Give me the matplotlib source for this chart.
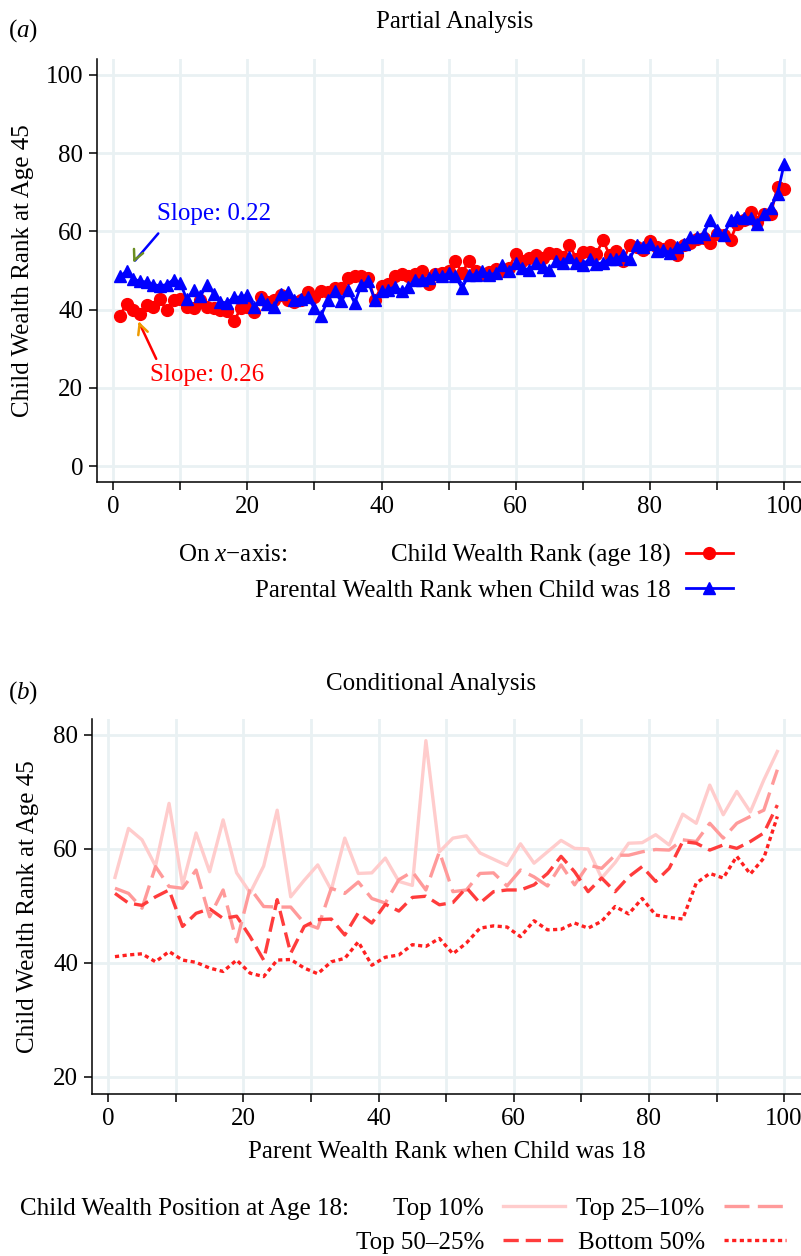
import numpy as np
import matplotlib
matplotlib.use("Agg")
import matplotlib.pyplot as plt
from matplotlib.lines import Line2D

plt.rcParams.update({
    "font.family": ["Liberation Serif", "DejaVu Serif"],
    "font.size": 18,
    "mathtext.fontset": "custom",
    "mathtext.rm": "Liberation Serif",
    "mathtext.it": "Liberation Serif:italic",
    "lines.scale_dashes": False,
})

W, H = 801, 1256
GRID = "#e9f1f3"
RED, BLUE = "#ff0000", "#0000ff"

# ----------------------------- data ------------------------------------------
rank = np.arange(1, 101)
child_rank = [38.4, 41.5, 39.8, 39.0, 41.3, 40.7, 42.6, 39.8, 42.4, 42.6,
              40.7, 40.3, 42.4, 40.7, 40.3, 39.8, 39.6, 37.0, 40.3, 40.7,
              39.5, 43.2, 42.0, 42.4, 43.7, 42.4, 42.0, 42.4, 44.5, 43.3,
              44.7, 44.5, 45.5, 45.5, 48.0, 48.7, 48.5, 48.0, 42.5, 46.0,
              46.5, 48.5, 49.0, 48.5, 49.0, 50.0, 46.5, 49.0, 49.3, 49.8,
              52.5, 49.3, 52.5, 49.8, 49.0, 49.5, 50.5, 49.8, 50.6, 54.3,
              52.3, 53.2, 54.0, 53.2, 54.5, 54.1, 53.5, 56.6, 53.0, 54.7,
              54.7, 54.3, 57.7, 53.9, 55.1, 52.5, 56.6, 56.0, 55.3, 57.5,
              56.0, 55.5, 56.5, 54.0, 56.5, 57.0, 58.1, 58.4, 57.0, 59.4,
              59.0, 57.9, 62.0, 62.8, 65.0, 62.5, 64.5, 64.5, 71.3, 70.9]
parent_rank = [48.5, 49.8, 47.9, 47.2, 47.1, 46.4, 46.1, 46.4, 47.7, 46.8,
               42.6, 45.1, 43.4, 46.4, 44.1, 42.0, 41.7, 43.2, 43.2, 43.8,
               40.7, 42.8, 41.5, 40.7, 44.1, 44.5, 42.4, 42.8, 43.2, 40.4,
               38.5, 42.5, 44.7, 42.1, 45.1, 41.7, 46.4, 47.2, 42.5, 44.7,
               45.1, 45.9, 44.7, 45.9, 47.6, 47.6, 48.1, 49.1, 48.5, 49.3,
               48.5, 45.5, 48.9, 48.9, 49.9, 48.9, 49.3, 51.5, 49.8, 51.9,
               50.6, 50.2, 51.9, 51.0, 50.2, 52.3, 52.0, 53.5, 52.0, 51.5,
               53.0, 51.7, 52.0, 53.0, 53.0, 54.0, 53.0, 56.5, 56.0, 56.8,
               55.1, 55.3, 54.5, 56.0, 56.8, 58.5, 58.6, 59.4, 63.0, 60.3,
               59.0, 62.8, 63.7, 63.5, 63.5, 62.0, 64.5, 66.0, 69.6, 77.3]

prank = np.arange(1, 100, 2)
top10 = [55.0, 63.6, 61.6, 57.0, 68.0, 53.7, 62.8, 56.0, 65.1, 55.8,
         52.3, 57.0, 66.8, 51.6, 54.5, 57.2, 52.8, 61.9, 55.7, 55.8,
         58.4, 54.3, 53.6, 79.0, 59.5, 61.9, 62.3, 59.3, 58.2, 57.1,
         60.9, 57.5, 59.5, 61.5, 60.1, 60.0, 54.9, 57.6, 61.0, 61.1,
         62.5, 60.7, 66.1, 64.5, 71.2, 66.0, 70.1, 66.5, 72.1, 77.1]
top25_10 = [53.1, 52.2, 49.6, 56.9, 53.4, 53.1, 56.3, 48.1, 52.8, 43.7,
            53.1, 49.9, 49.8, 49.8, 47.0, 46.1, 53.1, 52.2, 54.2, 51.3,
            50.5, 54.6, 56.0, 52.8, 59.5, 52.5, 52.8, 55.7, 55.8, 53.5,
            56.3, 55.1, 53.5, 57.2, 53.7, 57.2, 56.6, 58.9, 58.9, 59.5,
            59.9, 59.8, 61.6, 61.3, 64.5, 61.9, 64.5, 65.7, 66.8, 73.9]
top50_25 = [52.2, 50.5, 50.1, 51.6, 52.8, 46.4, 48.7, 49.5, 47.8, 48.2,
            44.6, 40.5, 51.1, 41.7, 46.4, 47.6, 47.7, 44.9, 48.8, 47.0,
            50.3, 49.1, 51.5, 51.7, 50.2, 50.6, 53.2, 50.5, 52.5, 52.8,
            52.8, 53.7, 55.7, 58.7, 56.0, 52.5, 54.9, 52.5, 55.1, 56.9,
            54.3, 56.6, 61.3, 61.0, 59.8, 60.7, 60.1, 61.3, 62.8, 67.7]
bottom50 = [41.1, 41.4, 41.6, 40.2, 42.0, 40.5, 40.1, 39.1, 38.5, 40.5,
            38.2, 37.6, 40.5, 40.6, 39.1, 38.1, 40.2, 40.8, 43.7, 39.6,
            41.0, 41.4, 43.2, 42.9, 44.3, 41.6, 43.5, 46.1, 46.5, 46.3,
            44.6, 47.4, 45.8, 45.9, 47.0, 46.1, 47.3, 49.9, 48.6, 51.3,
            48.4, 48.0, 47.7, 54.0, 55.7, 54.9, 58.7, 55.6, 58.4, 65.7]

xticks = np.arange(0, 101, 10)
xlabels = [str(t) if t % 20 == 0 else "" for t in xticks]


def style(ax, yticks):
    for s in ("top", "right"):
        ax.spines[s].set_visible(False)
    for s in ("left", "bottom"):
        ax.spines[s].set_linewidth(1.1)
    ax.set_xlim(-2.4, 102.5)
    ax.set_xticks(xticks)
    ax.set_xticklabels(xlabels)
    ax.set_yticks(yticks)
    ax.tick_params(direction="out", length=6, width=1.1, labelsize=18, pad=4)
    ax.grid(True, color=GRID, lw=2)
    ax.set_axisbelow(True)


fig = plt.figure(figsize=(W / 100, H / 100), dpi=100)

# ----------------------------- (a) partial ----------------------------------
ax1 = fig.add_axes([97 / W, 1 - 482 / H, 1 - 97 / W, 423 / H])
style(ax1, np.arange(0, 101, 20))
ax1.set_ylim(-4, 104)
ax1.plot(rank, child_rank, "-o", color=RED, lw=2, ms=8.5, mec=RED)
ax1.plot(rank, parent_rank, "-^", color=BLUE, lw=2, ms=8.5, mec=BLUE)
ax1.set_ylabel("Child Wealth Rank at Age 45", fontsize=18, labelpad=8)

# slope annotations: coloured shaft + differently coloured head
ax1.annotate("", xy=(3.0, 52.0), xytext=(7.0, 60.0),
             arrowprops=dict(arrowstyle="-", color=BLUE, lw=1.8))
ax1.annotate("", xy=(3.0, 52.0), xytext=(1.0, 2.2), textcoords="offset points",
             arrowprops=dict(arrowstyle="->", color="#6b8e23", lw=1.8,
                             mutation_scale=18, shrinkA=0, shrinkB=0))
ax1.text(6.5, 64.5, "Slope: 0.22", color=BLUE, fontsize=18, va="center")
ax1.annotate("", xy=(3.8, 37.0), xytext=(6.6, 26.8),
             arrowprops=dict(arrowstyle="-", color=RED, lw=1.8))
ax1.annotate("", xy=(3.8, 37.0), xytext=(0.8, -2.2), textcoords="offset points",
             arrowprops=dict(arrowstyle="->", color="#ee9a00", lw=1.8,
                             mutation_scale=18, shrinkA=0, shrinkB=0))
ax1.text(5.5, 23.3, "Slope: 0.26", color=RED, fontsize=18, va="center")

fig.text(455 / W, 1 - 22 / H, "Partial Analysis", ha="center", va="center")
fig.text(8 / W, 1 - 31 / H, "($a$)", ha="left", va="center")

h1 = [Line2D([], [], color=RED, marker="o", lw=2, ms=8.5),
      Line2D([], [], color=BLUE, marker="^", lw=2, ms=8.5)]
fig.legend(h1, ["Child Wealth Rank (age 18)",
                "Parental Wealth Rank when Child was 18"],
           loc="upper right", bbox_to_anchor=(733 / W, 1 - 544 / H),
           frameon=False, markerfirst=False, numpoints=1, fontsize=18,
           handlelength=1.9, handletextpad=0.6, borderpad=0,
           borderaxespad=0, labelspacing=0.48)
fig.text(178 / W, 1 - 555 / H, "On $x$\u2212axis:", ha="left", va="center")

# ----------------------------- (b) conditional ------------------------------
ax2 = fig.add_axes([92 / W, 1 - 1094 / H, 1 - 92 / W, 375 / H])
style(ax2, [20, 40, 60, 80])
ax2.set_ylim(17, 82.8)
series = [
    ("Top 10%", top10, "#ffcccc", None),
    ("Top 25\u201310%", top25_10, "#ff9a9a", (18, 6)),
    ("Top 50\u201325%", top50_25, "#ff3c3c", (11, 5)),
    ("Bottom 50%", bottom50, "#ff2020", (3, 2.5)),
]
handles = {}
for name, vals, col, dash in series:
    ln, = ax2.plot(prank, vals, color=col, lw=2.4)
    if dash:
        ln.set_dashes(dash)
    handles[name] = ln
ax2.set_ylabel("Child Wealth Rank at Age 45", fontsize=18, labelpad=10)
ax2.set_xlabel("Parent Wealth Rank when Child was 18", fontsize=18, labelpad=8)

fig.text(431 / W, 1 - 684 / H, "Conditional Analysis", ha="center", va="center")
fig.text(8 / W, 1 - 693 / H, "($b$)", ha="left", va="center")

order = ["Top 10%", "Top 50\u201325%", "Top 25\u201310%", "Bottom 50%"]
fig.legend([handles[k] for k in order], order, ncol=2,
           loc="upper right", bbox_to_anchor=(786 / W, 1 - 1197 / H),
           frameon=False, markerfirst=False, fontsize=18,
           handlelength=2.5, handletextpad=0.75, columnspacing=0.45,
           borderpad=0, borderaxespad=0, labelspacing=0.48)
fig.text(20 / W, 1 - 1209 / H, "Child Wealth Position at Age 18:",
         ha="left", va="center")

fig.savefig("out.png", dpi=100)
